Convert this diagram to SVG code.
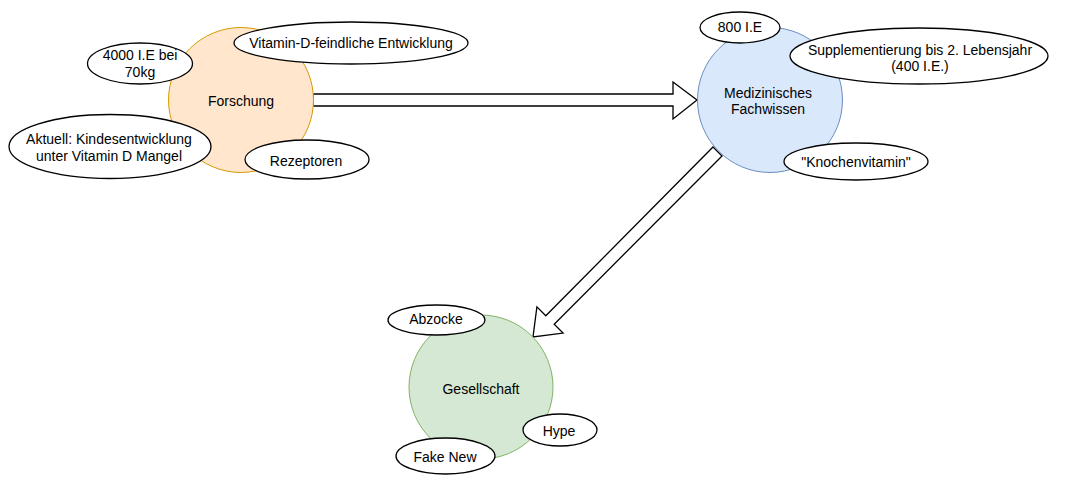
<svg xmlns="http://www.w3.org/2000/svg" width="1072" height="485" viewBox="0 0 1072 485">
<style>
text{font-family:"Liberation Sans",Arial,sans-serif;font-size:14px;fill:#000;text-anchor:middle}
.bub{fill:#fff;stroke:#000;stroke-width:1.3}
.arr{fill:#fff;stroke:#000;stroke-width:1.3;stroke-linejoin:miter}
</style>
<rect width="1072" height="485" fill="#fff"/>
<g id="connectors">
<polygon class="arr" points="313,94 673,94 673,82 697,100 673,119 673,106 313,106"/>
<polygon class="arr" points="722,156 554.2,324.2 563.1,333.1 533,337 536.9,306.9 545.8,315.8 713,147"/>
</g>
<g id="forschung">
<circle cx="241" cy="100" r="72.5" fill="#ffe6cc" stroke="#d79b00"/>
<text x="241" y="106">Forschung</text>
</g>
<g id="medizin">
<circle cx="770" cy="100" r="72.5" fill="#dae8fc" stroke="#6c8ebf"/>
<text x="768" y="98">Medizinisches</text>
<text x="768" y="114">Fachwissen</text>
</g>
<g id="gesellschaft">
<circle cx="481" cy="387" r="72" fill="#d5e8d4" stroke="#82b366"/>
<text x="481" y="394">Gesellschaft</text>
</g>
<g id="n4000">
<ellipse class="bub" cx="140" cy="63.5" rx="52.5" ry="20.5"/>
<text x="140" y="60">4000 I.E bei</text>
<text x="140" y="77">70kg</text>
</g>
<g id="feindlich">
<ellipse class="bub" cx="351" cy="43" rx="117" ry="21"/>
<text x="351" y="48">Vitamin-D-feindliche Entwicklung</text>
</g>
<g id="aktuell">
<ellipse class="bub" cx="110" cy="146.5" rx="101" ry="32"/>
<text x="109" y="144">Aktuell: Kindesentwicklung</text>
<text x="109" y="161">unter Vitamin D Mangel</text>
</g>
<g id="rezeptoren">
<ellipse class="bub" cx="307" cy="159.5" rx="62" ry="19.5"/>
<text x="306" y="166">Rezeptoren</text>
</g>
<g id="n800">
<ellipse class="bub" cx="740" cy="27.5" rx="40" ry="15.5"/>
<text x="740" y="32">800 I.E</text>
</g>
<g id="supplement">
<ellipse class="bub" cx="919" cy="56" rx="129" ry="28"/>
<text x="920" y="55">Supplementierung bis 2. Lebensjahr</text>
<text x="920" y="71">(400 I.E.)</text>
</g>
<g id="knochen">
<ellipse class="bub" cx="856" cy="161.5" rx="72" ry="18.5"/>
<text x="856" y="167">"Knochenvitamin"</text>
</g>
<g id="abzocke">
<ellipse class="bub" cx="436.5" cy="320" rx="48.5" ry="15"/>
<text x="436" y="324">Abzocke</text>
</g>
<g id="hype">
<ellipse class="bub" cx="560" cy="430" rx="37" ry="16"/>
<text x="559" y="436">Hype</text>
</g>
<g id="fakenew">
<ellipse class="bub" cx="445.5" cy="456" rx="49.5" ry="18"/>
<text x="445" y="462">Fake New</text>
</g>
</svg>
